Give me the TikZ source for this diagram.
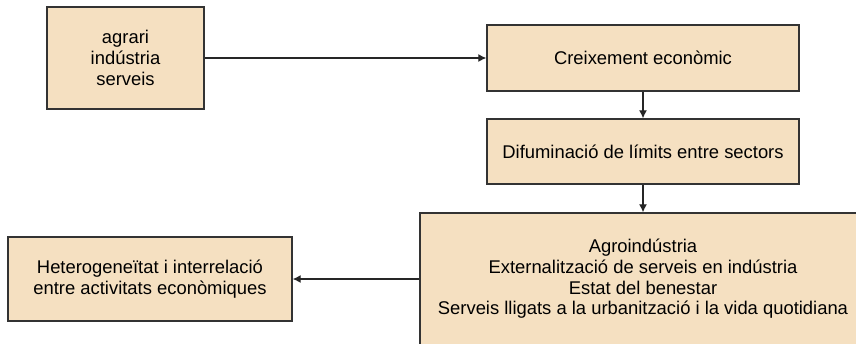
\documentclass[tikz,border=0pt]{standalone}
\usepackage{fontspec}
\setmainfont{Liberation Sans}
\usetikzlibrary{%
    arrows.meta,
    positioning
}

\definecolor{boxfill}{RGB}{245,224,193}
\definecolor{boxline}{RGB}{51,51,51}

\tikzset{
    stage/.style={draw=boxline, fill=boxfill, line width=1.1pt,
                  align=center, inner sep=0pt,
                  font=\fontsize{13.8}{15.5}\selectfont},
    link/.style={-{Latex[length=6pt,width=6pt]}, line width=0.8pt, black!85}
}

\begin{document}
\begin{tikzpicture}[x=0.75pt, y=-0.75pt]
    \useasboundingbox (0,0) rectangle (856,343);
    \clip (0,0) rectangle (856,343);

    \node (sectors)  [stage, minimum width=117.75pt, minimum height=76.5pt]
        at (125.5,58) {agrari\\ indústria\\ serveis};
    \node (growth)   [stage, minimum width=234pt, minimum height=49.5pt]
        at (643,58) {Creixement econòmic};
    \node (blurring) [stage, minimum width=234pt, minimum height=48.75pt]
        at (643,151.5) {Difuminació de límits entre sectors};
    \node (examples) [stage, minimum width=334.5pt, minimum height=99pt]
        at (643,279) {Agroindústria\\ Externalització de serveis en indústria\\
                      Estat del benestar\\
                      Serveis lligats a la urbanització i la vida quotidiana};
    \node (mixing)   [stage, minimum width=213pt, minimum height=63pt]
        at (150,279) {Heterogeneïtat i interrelació\\ entre activitats econòmiques};

    \foreach \From/\To in {%
        sectors.east/growth.west,
        growth.south/blurring.north,
        blurring.south/examples.north,
        examples.west/mixing.east%
        }
        \draw[link] (\From) -- (\To);
\end{tikzpicture}
\end{document}
